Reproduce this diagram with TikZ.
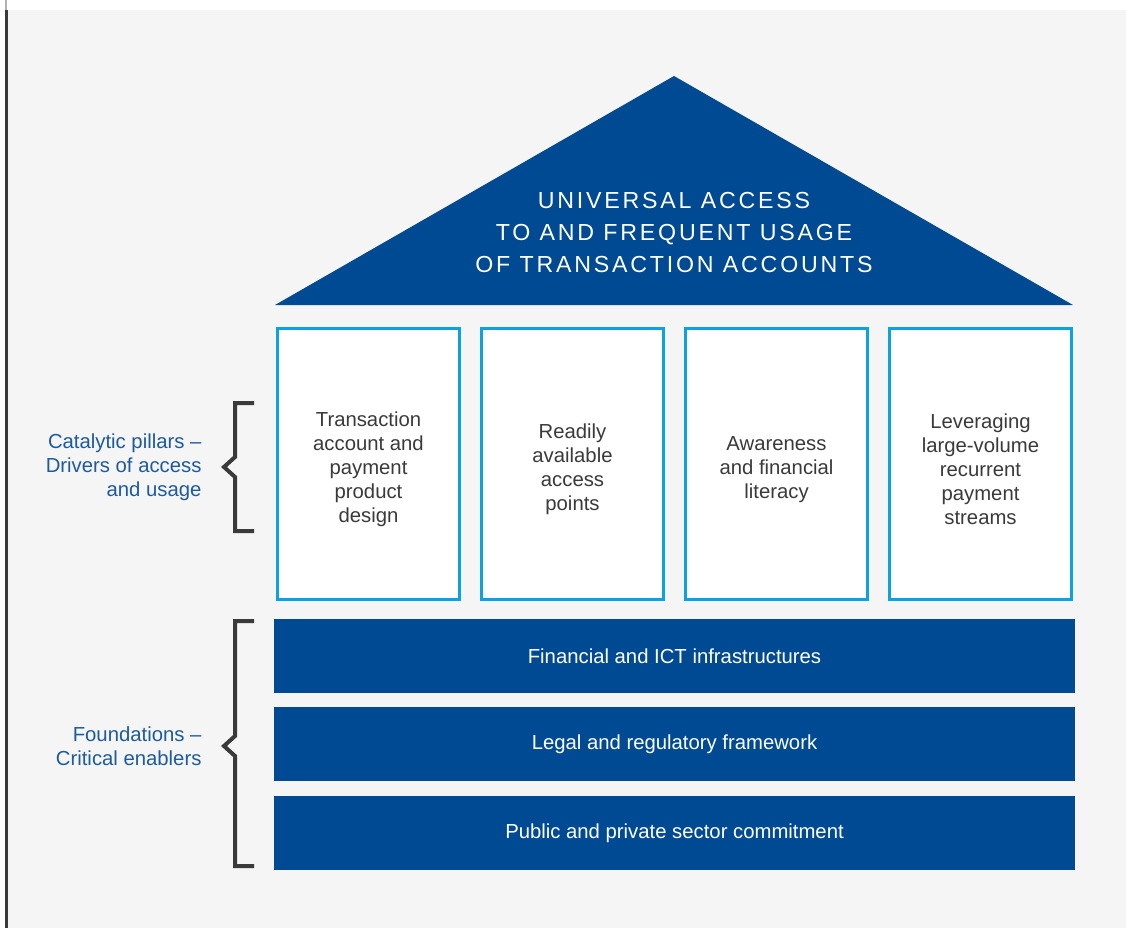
\documentclass[tikz,border=0pt]{standalone}
\usepackage{fontspec}
\setmainfont{Liberation Sans}
\usetikzlibrary{positioning}
\definecolor{roofblue}{HTML}{004A93}
\definecolor{rimblue}{HTML}{0AA2E2}
\definecolor{labelblue}{HTML}{1D5A9E}
\definecolor{textgray}{HTML}{3A3A3A}
\definecolor{bggray}{HTML}{F5F5F5}
\tikzset{
  pillar/.style={draw=rimblue, fill=white, line width=3pt, minimum width=182pt, minimum height=271pt, align=center, text=textgray, font=\fontsize{20.3}{24}\selectfont},
  base/.style={fill=roofblue, minimum width=801pt, minimum height=74pt, text=white, font=\fontsize{20.3}{24}\selectfont},
  side/.style={anchor=east, align=right, text=labelblue, font=\fontsize{20.3}{24}\selectfont},
  brace/.style={draw=textgray, line width=4pt}
}
\begin{document}
\begin{tikzpicture}[x=1pt,y=-1pt]
    \useasboundingbox (0,0) rectangle (1126,928);
    \fill[bggray] (8,10) rectangle (1126,928);
    \draw[line width=3pt, textgray] (6.5,10) -- (6.5,928);
    \draw[line width=1.5pt, gray!60] (6,0) -- (6,10);
    % roof
    \coordinate (top) at (674,76);
    \coordinate (eaveL) at (275,305);
    \coordinate (eaveR) at (1073,305);
    \fill[roofblue] (eaveL) -- (top) -- (eaveR) -- cycle;
    \node (title) [align=center, text=white, font=\fontsize{23.2}{32}\selectfont\addfontfeature{LetterSpace=12}] at (674,233)
    {UNIVERSAL ACCESS\\TO AND FREQUENT USAGE\\OF TRANSACTION ACCOUNTS};
    % pillars
    \node (P1) [pillar] at (368.5,464) {\\[1pt]Transaction\\account and\\payment\\product\\design};
    \node (P2) [pillar,right=19pt of P1] {\\[1pt]Readily\\available\\access\\points};
    \node (P3) [pillar,right=19pt of P2] {\\[1pt]Awareness\\and financial\\literacy};
    \node (P4) [pillar,right=19pt of P3] {\\[1pt]Leveraging\\large-volume\\recurrent\\payment\\streams};
    % foundations
    \node (F1) [base] at (674.5,656) {Financial and ICT infrastructures};
    \node (F2) [base,below=14pt of F1] {Legal and regulatory framework};
    \node (F3) [base,below=14pt of F2] {Public and private sector commitment};
    % side labels
    \node (L1) [side] at (205,467) {Catalytic pillars --\\Drivers of access\\and usage};
    \node (L2) [side] at (205,746) {Foundations --\\Critical enablers};
    \draw[brace] (254,403) -- (235,403) -- (235,457) -- (224,467) -- (235,477) -- (235,531) -- (254,531);
    \draw[brace] (254,621) -- (235,621) -- (235,736) -- (224,746) -- (235,756) -- (235,866) -- (254,866);
\end{tikzpicture}
\end{document}
